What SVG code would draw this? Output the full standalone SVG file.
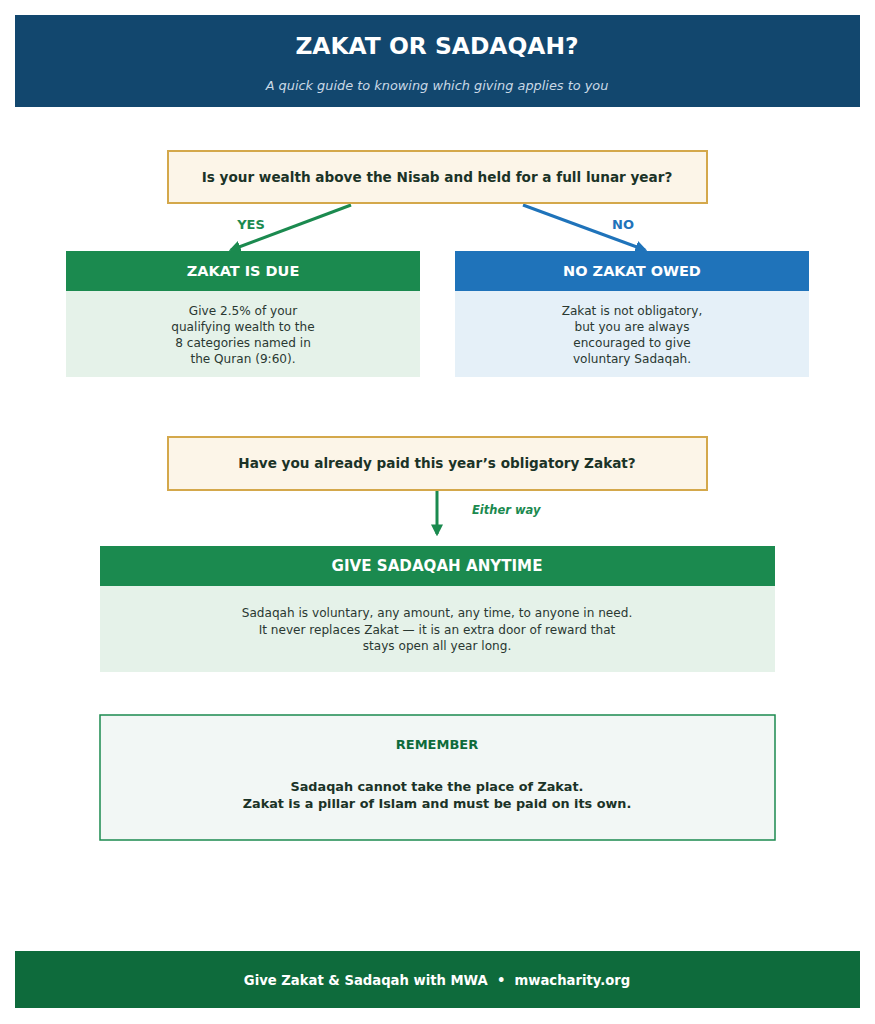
<svg xmlns="http://www.w3.org/2000/svg" width="875" height="1024" viewBox="0 0 875 1024">
<defs>
<style>
text{font-family:"DejaVu Sans","Noto Sans",sans-serif;text-anchor:middle;dominant-baseline:central}
.b{font-weight:bold}
.q{fill:#FCF5E8;stroke:#D4A84B;stroke-width:2}
.qt{font-size:13.6px;font-weight:bold;fill:#1B3327}
.ht{font-size:14.5px;font-weight:bold;fill:#fff}
.bt{font-size:12.1px;fill:#2A3832}
</style>
<marker id="ag" viewBox="0 0 10 10" refX="8" refY="5" markerWidth="4" markerHeight="4" orient="auto"><path d="M0,0 L10,5 L0,10 z" fill="#1B8A4F"/></marker>
<marker id="ab" viewBox="0 0 10 10" refX="8" refY="5" markerWidth="4" markerHeight="4" orient="auto"><path d="M0,0 L10,5 L0,10 z" fill="#1F73BA"/></marker>
</defs>
<rect width="875" height="1024" fill="#fff"/>
<g id="header">
<rect x="15" y="15" width="845" height="92" fill="#12476E"/>
<text x="437" y="46" class="b" font-size="23.4" fill="#fff">ZAKAT OR SADAQAH?</text>
<text x="437" y="85" font-size="12.9" font-style="italic" fill="#C9D9E6">A quick guide to knowing which giving applies to you</text>
</g>
<g id="connectors" fill="none" stroke-width="3">
<line x1="351" y1="205" x2="231" y2="250" stroke="#1B8A4F" marker-end="url(#ag)"/>
<line x1="523" y1="205" x2="645" y2="250" stroke="#1F73BA" marker-end="url(#ab)"/>
<line x1="437" y1="491" x2="437" y2="534" stroke="#1B8A4F" marker-end="url(#ag)"/>
<text x="251" y="224" class="b" font-size="13" fill="#1B8A4F" stroke="none">YES</text>
<text x="623" y="224" class="b" font-size="13" fill="#1F73BA" stroke="none">NO</text>
<text x="472" y="510" class="b" font-size="11.5" font-style="italic" fill="#1B8A4F" stroke="none" style="text-anchor:start">Either way</text>
</g>
<g id="q1">
<rect x="168" y="151" width="539" height="52" class="q"/>
<text x="437" y="177" class="qt">Is your wealth above the Nisab and held for a full lunar year?</text>
</g>
<g id="zakat-due">
<rect x="66" y="251" width="354" height="126" fill="#E5F2E9"/>
<rect x="66" y="251" width="354" height="40" fill="#1B8A4F"/>
<text x="243" y="271" class="ht">ZAKAT IS DUE</text>
<text x="243" y="311" class="bt">Give 2.5% of your</text>
<text x="243" y="327" class="bt">qualifying wealth to the</text>
<text x="243" y="343" class="bt">8 categories named in</text>
<text x="243" y="359" class="bt">the Quran (9:60).</text>
</g>
<g id="no-zakat">
<rect x="455" y="251" width="354" height="126" fill="#E5F0F8"/>
<rect x="455" y="251" width="354" height="40" fill="#1F73BA"/>
<text x="632" y="271" class="ht">NO ZAKAT OWED</text>
<text x="632" y="311" class="bt">Zakat is not obligatory,</text>
<text x="632" y="327" class="bt">but you are always</text>
<text x="632" y="343" class="bt">encouraged to give</text>
<text x="632" y="359" class="bt">voluntary Sadaqah.</text>
</g>
<g id="q2">
<rect x="168" y="437" width="539" height="53" class="q"/>
<text x="437" y="463" class="qt">Have you already paid this year’s obligatory Zakat?</text>
</g>
<g id="sadaqah">
<rect x="100" y="546" width="675" height="126" fill="#E5F2E9"/>
<rect x="100" y="546" width="675" height="40" fill="#1B8A4F"/>
<text x="437" y="566" class="ht" style="font-size:15.1px">GIVE SADAQAH ANYTIME</text>
<text x="437" y="613" class="bt">Sadaqah is voluntary, any amount, any time, to anyone in need.</text>
<text x="437" y="630" class="bt">It never replaces Zakat — it is an extra door of reward that</text>
<text x="437" y="646" class="bt">stays open all year long.</text>
</g>
<g id="remember">
<rect x="100" y="715" width="675" height="125" fill="#F2F7F5" stroke="#1B8A4F" stroke-width="1.5"/>
<text x="437" y="744" class="b" font-size="13" fill="#0E6B3B">REMEMBER</text>
<text x="437" y="786" class="b" font-size="12.8" fill="#1B3327">Sadaqah cannot take the place of Zakat.</text>
<text x="437" y="803" class="b" font-size="12.8" fill="#1B3327">Zakat is a pillar of Islam and must be paid on its own.</text>
</g>
<g id="footer">
<rect x="15" y="951" width="845" height="57" fill="#0E6B3C"/>
<text x="437" y="980" class="b" font-size="13.2" fill="#fff" style="white-space:pre">Give Zakat &amp; Sadaqah with MWA  •  mwacharity.org</text>
</g>
</svg>
